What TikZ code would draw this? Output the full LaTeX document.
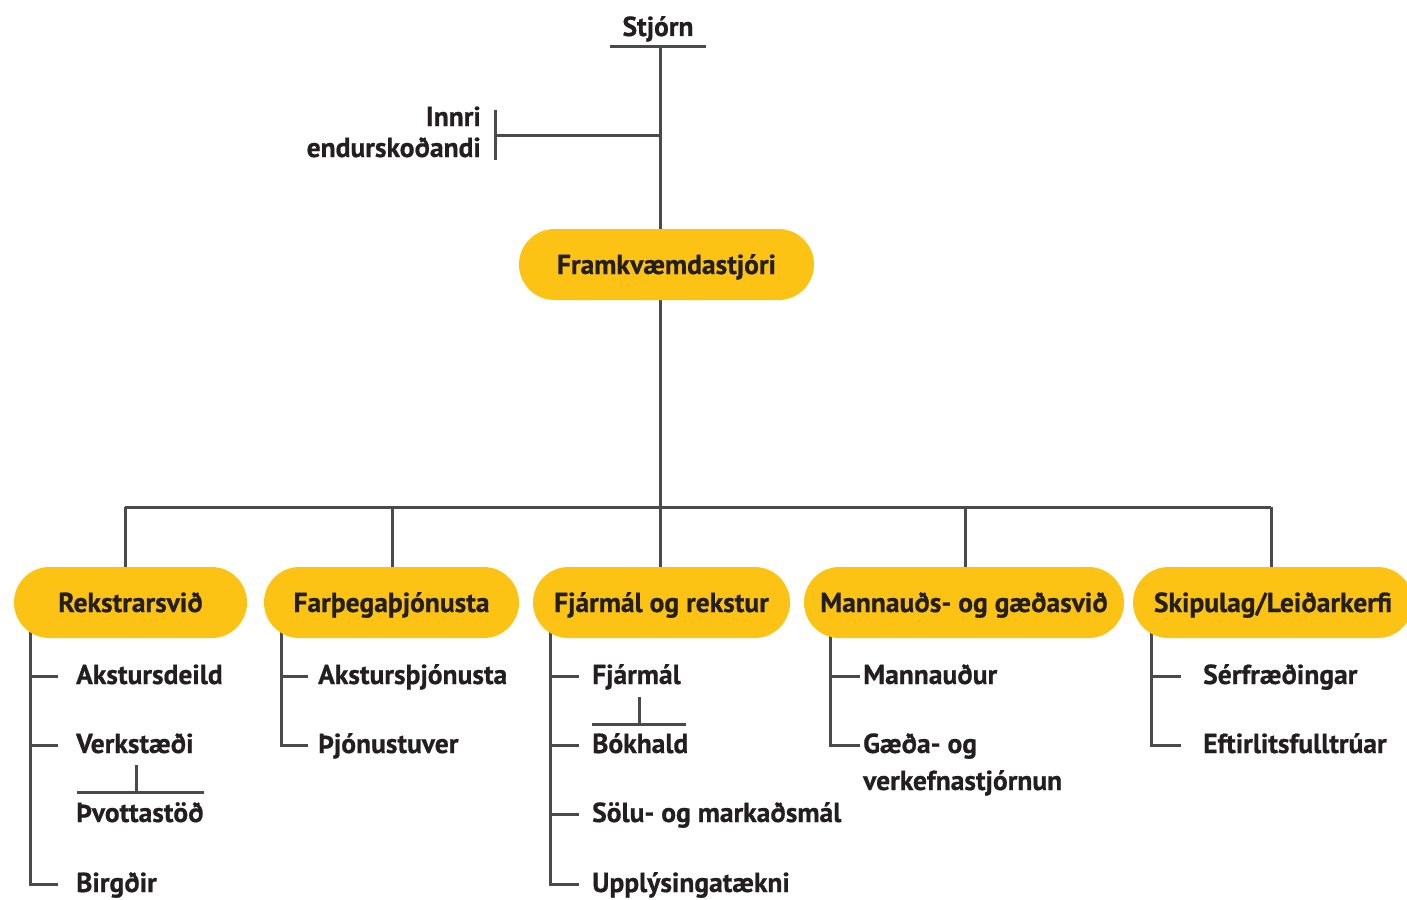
\documentclass[tikz,border=0pt]{standalone}
\usepackage{fontspec}
\setmainfont{PT Sans}[BoldFeatures={FakeBold=0.7}]
\definecolor{pillc}{HTML}{FCC314}
\definecolor{ink}{HTML}{231F20}
\definecolor{lnc}{HTML}{4A4A4A}
\newcommand\orgitem[4]{%
  \node[lbl] (#1) at (#2,#3) {#4};
  \coordinate (#1t) at ([yshift=8pt]#1.base west);
}
\begin{document}
\begin{tikzpicture}[x=1pt,y=-1pt,
  txt/.style={font=\bfseries\fontsize{27.5}{31}\selectfont, text=ink, inner sep=0pt},
  lbl/.style={txt, anchor=base west},
  pillbox/.style={txt, fill=pillc, rounded corners=35.5pt, minimum height=71pt,
    text height=19pt, text depth=0pt},
  conn/.style={draw=lnc, line width=3pt}]
\useasboundingbox (0,0) rectangle (1407,899);

% top
\node[txt, anchor=base] (stj) at (658,36) {Stjórn};
\coordinate (stjL) at (610,47);
\coordinate (stjR) at (706,47);
\coordinate (stjb) at (660,47);
\node[txt, anchor=base east] (inn) at (481,126)
  {\begin{tabular}[t]{@{}r@{}}Innri\\endurskoðandi\end{tabular}};
\coordinate (inT) at (495,110);
\coordinate (inB) at (495,160);
\coordinate (inb) at (495,135);

% connectors behind pills
\draw[conn] (stjL) -- (stjR);
\draw[conn] (inT) -- (inB);
\draw[conn] (inb) -- (inb -| stjb);
\coordinate (busC) at (660,507);
\coordinate (busL) at (125,507);
\coordinate (busR) at (1271,507);
\coordinate (d2) at (392,507);
\coordinate (d4) at (965,507);
\draw[conn] (stjb) -- (busC);
\draw[conn] (busL) -- (busR);

% sub items
\orgitem{ak}{76}{684}{Akstursdeild}
\orgitem{ve}{76}{753}{Verkstæði}
\orgitem{tv}{76}{822}{Þvottastöð}
\orgitem{bi}{76}{892}{Birgðir}
\orgitem{aks}{318}{684}{Akstursþjónusta}
\orgitem{tj}{318}{753}{Þjónustuver}
\orgitem{fm}{592}{684}{Fjármál}
\orgitem{bo}{592}{753}{Bókhald}
\orgitem{so}{592}{822}{Sölu- og markaðsmál}
\orgitem{up}{592}{892}{Upplýsingatækni}
\orgitem{mn}{863}{684}{Mannauður}
\node[lbl] (ge) at (863,753)
  {\begin{tabular}[t]{@{}l@{}}Gæða- og\\[6pt]verkefnastjórnun\end{tabular}};
\coordinate (get) at ([yshift=8pt]ge.base west);
\orgitem{se}{1203}{684}{Sérfræðingar}
\orgitem{ef}{1203}{753}{Eftirlitsfulltrúar}

% trunks
\coordinate (rekT) at (30,630);  \coordinate (rekE) at (58,0);
\coordinate (farT) at (281,630); \coordinate (farE) at (308,0);
\coordinate (fjaT) at (550,630); \coordinate (fjaE) at (579,0);
\coordinate (manT) at (830,630); \coordinate (manE) at (860,0);
\coordinate (skiT) at (1151,630);\coordinate (skiE) at (1181,0);

\draw[conn] (rekT) |- (rekE |- bit);
\draw[conn] (rekT |- akt) -- (rekE |- akt);
\draw[conn] (rekT |- vet) -- (rekE |- vet);
\draw[conn] (farT) |- (farE |- tjt);
\draw[conn] (farT |- akst) -- (farE |- akst);
\draw[conn] (fjaT) |- (fjaE |- upt);
\draw[conn] (fjaT |- fmt) -- (fjaE |- fmt);
\draw[conn] (fjaT |- bot) -- (fjaE |- bot);
\draw[conn] (fjaT |- sot) -- (fjaE |- sot);
\draw[conn] (manT) |- (manE |- get);
\draw[conn] (manT |- mnt) -- (manE |- mnt);
\draw[conn] (skiT) |- (skiE |- eft);
\draw[conn] (skiT |- set) -- (skiE |- set);

% small sub-lines
\coordinate (vsL) at (77,792); \coordinate (vsR) at (204,792); \coordinate (vsM) at (136,792);
\coordinate (vsT) at (136,765);
\draw[conn] (vsL) -- (vsR);
\draw[conn] (vsT) -- (vsM);
\coordinate (bsL) at (592,724); \coordinate (bsR) at (686,724); \coordinate (bsM) at (639,724);
\coordinate (bsT) at (639,697);
\draw[conn] (bsL) -- (bsR);
\draw[conn] (bsT) -- (bsM);

% pills
\node[pillbox, minimum width=295pt] (fk) at (666.5,264.5) {Framkvæmdastjóri};
\node[pillbox, minimum width=233pt] (rek) at (130.5,602.5) {Rekstrarsvið};
\node[pillbox, minimum width=255pt] (far) at (391.5,602.5) {Farþegaþjónusta};
\node[pillbox, minimum width=257pt] (fja) at (661.5,602.5) {Fjármál og rekstur};
\node[pillbox, minimum width=320pt] (man) at (964,602.5) {Mannauðs- og gæðasvið};
\node[pillbox, minimum width=280pt] (ski) at (1273,602.5) {Skipulag/Leiðarkerfi};

% drops from bus
\draw[conn] (busL) -- (busL |- rek.north);
\draw[conn] (d2) -- (d2 |- far.north);
\draw[conn] (busC) -- (busC |- fja.north);
\draw[conn] (d4) -- (d4 |- man.north);
\draw[conn] (busR) -- (busR |- ski.north);
\end{tikzpicture}
\end{document}
